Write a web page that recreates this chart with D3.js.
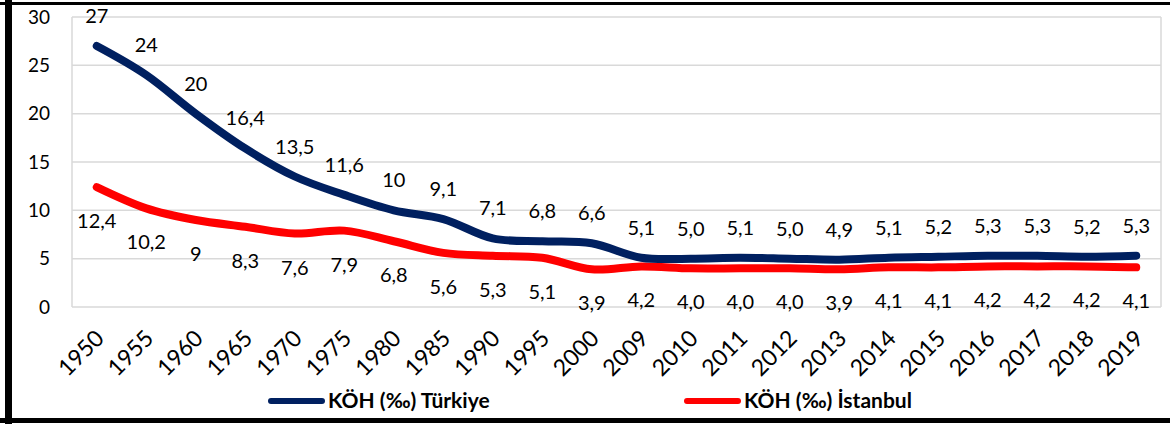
<!DOCTYPE html>
<html>
<head>
<meta charset="utf-8">
<script src="https://cdn.jsdelivr.net/npm/d3@7"></script>
<style>
  body { margin: 0; background: #fff; }
  text { font-family: Lato, "Open Sans", sans-serif; fill: #000; }
</style>
</head>
<body>
<svg width="1170" height="424"></svg>
<script>
// veriler
var years = ["1950", "1955", "1960", "1965", "1970", "1975", "1980", "1985", "1990", "1995", "2000",
  "2009", "2010", "2011", "2012", "2013", "2014", "2015", "2016", "2017", "2018", "2019"];
var turkiye = [27, 24, 20, 16.4, 13.5, 11.6, 10, 9.1, 7.1, 6.8, 6.6,
  5.1, 5.0, 5.1, 5.0, 4.9, 5.1, 5.2, 5.3, 5.3, 5.2, 5.3];
var istanbul = [12.4, 10.2, 9, 8.3, 7.6, 7.9, 6.8, 5.6, 5.3, 5.1, 3.9,
  4.2, 4.0, 4.0, 4.0, 3.9, 4.1, 4.1, 4.2, 4.2, 4.2, 4.1];
var yTicks = [0, 5, 10, 15, 20, 25, 30];
var seriesNames = ["KÖH (‰) Türkiye", "KÖH (‰) İstanbul"];

var svg = d3.select("svg");
var plotLeft = 72, plotRight = 1161, plotTop = 17, plotBottom = 307;

var x = d3.scaleBand().domain(years).range([plotLeft, plotRight]);
var y = d3.scaleLinear().domain([0, 30]).range([plotBottom, plotTop]);

// 2009 sonrası etiketler tek ondalıklı
function fmt(v, i) {
  var s = i >= 11 ? v.toFixed(1) : String(v);
  return s.replace(".", ",");
}

// çerçeve
svg.append("line").attr("x1", 8.5).attr("x2", 8.5).attr("y1", 0).attr("y2", 424)
  .attr("stroke", "#000").attr("stroke-width", 7);
svg.append("line").attr("x1", 0).attr("x2", 1170).attr("y1", 3.5).attr("y2", 3.5)
  .attr("stroke", "#000").attr("stroke-width", 3);
svg.append("line").attr("x1", 0).attr("x2", 1170).attr("y1", 420.5).attr("y2", 420.5)
  .attr("stroke", "#000").attr("stroke-width", 5);

// ızgara
svg.append("g").selectAll("line").data(yTicks).enter().append("line")
  .attr("x1", plotLeft).attr("x2", plotRight)
  .attr("y1", d => y(d)).attr("y2", d => y(d))
  .attr("stroke", "#d9d9d9").attr("stroke-width", 1.5);
svg.append("line").attr("x1", plotLeft).attr("x2", plotLeft).attr("y1", plotTop).attr("y2", plotBottom)
  .attr("stroke", "#d9d9d9").attr("stroke-width", 1.5);
svg.append("line").attr("x1", plotRight).attr("x2", plotRight).attr("y1", plotTop).attr("y2", plotBottom)
  .attr("stroke", "#d9d9d9").attr("stroke-width", 1.5);

// y ekseni
var yAxis = svg.append("g").attr("transform", "translate(" + plotLeft + ",0)")
  .call(d3.axisLeft(y).tickValues(yTicks).tickSize(0).tickPadding(22));
yAxis.select(".domain").remove();
yAxis.selectAll("text").style("font-size", "19px").style("font-family", "Lato");

// x ekseni
var xAxis = svg.append("g").attr("transform", "translate(0," + plotBottom + ")")
  .call(d3.axisBottom(x).tickSize(0));
xAxis.select(".domain").remove();
xAxis.selectAll("text")
  .style("font-size", "23px").style("font-family", "Lato")
  .attr("text-anchor", "end")
  .attr("dy", "0.35em")
  .attr("transform", "translate(3,27) rotate(-45)")
  .attr("y", 0).attr("x", 0);

var line = d3.line()
  .x((d, i) => x(years[i]) + x.bandwidth() / 2)
  .y(d => y(d))
  .curve(d3.curveCardinal.tension(0));

var series = [
  {values: turkiye, color: "#002060", dy: -30},
  {values: istanbul, color: "#ff0000", dy: 34}
];

series.slice().reverse().forEach(function (s) {
  svg.append("path").datum(s.values)
    .attr("d", line)
    .attr("fill", "none")
    .attr("stroke", s.color)
    .attr("stroke-width", 8)
    .attr("stroke-linecap", "round")
    .attr("stroke-linejoin", "round");
});

series.forEach(function (s) {
  svg.append("g").selectAll("text").data(s.values).enter().append("text")
    .attr("x", (d, i) => x(years[i]) + x.bandwidth() / 2)
    .attr("y", d => y(d) + s.dy)
    .attr("dy", "0.35em")
    .attr("text-anchor", "middle")
    .style("font-size", "20px")
    .text((d, i) => fmt(d, i));
});

// lejant
var legendX = [268, 684];
series.forEach(function (s, i) {
  var g = svg.append("g").attr("transform", "translate(" + legendX[i] + ",401)");
  g.append("line").attr("x1", 3).attr("x2", 54).attr("y1", 0).attr("y2", 0)
    .attr("stroke", s.color).attr("stroke-width", 6).attr("stroke-linecap", "round");
  g.append("text").attr("x", 60).attr("dy", "0.35em")
    .style("font-size", "21px").style("font-weight", "bold")
    .text(seriesNames[i]);
});
</script>
</body>
</html>
